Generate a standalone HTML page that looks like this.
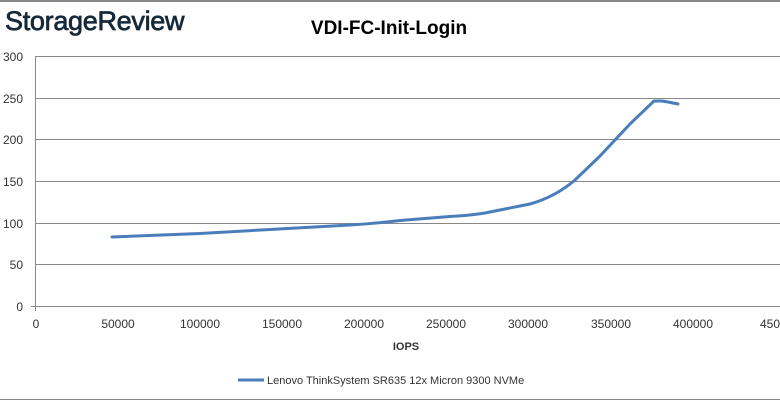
<!DOCTYPE html>
<html><head><style>
body{margin:0;background:#fff;}
svg{display:block;font-family:"Liberation Sans",sans-serif;}
</style></head><body>
<svg width="780" height="401" viewBox="0 0 780 401">
<rect width="780" height="401" fill="#fff"/>
<line x1="0" y1="1" x2="780" y2="1" stroke="#888" stroke-width="2"/>
<line x1="0" y1="399.5" x2="780" y2="399.5" stroke="#888" stroke-width="1"/>
<text x="5" y="30" font-size="27" fill="#15293a" stroke="#15293a" stroke-width="0.7" letter-spacing="-0.3">StorageReview</text>
<text x="389" y="34" font-size="19" font-weight="bold" text-anchor="middle" fill="#000">VDI-FC-Init-Login</text>
<g stroke="#888" stroke-width="1">
<line x1="36" y1="56.5" x2="780" y2="56.5"/>
<line x1="36" y1="98.5" x2="780" y2="98.5"/>
<line x1="36" y1="139.5" x2="780" y2="139.5"/>
<line x1="36" y1="181.5" x2="780" y2="181.5"/>
<line x1="36" y1="223.5" x2="780" y2="223.5"/>
<line x1="36" y1="264.5" x2="780" y2="264.5"/>
<line x1="31" y1="306.5" x2="780" y2="306.5"/>
<line x1="35.5" y1="56" x2="35.5" y2="311"/>
</g>
<g font-size="12" fill="#333" text-anchor="end">
<text x="23" y="61">300</text><text x="23" y="103">250</text><text x="23" y="144">200</text>
<text x="23" y="186">150</text><text x="23" y="228">100</text><text x="23" y="269">50</text><text x="23" y="311">0</text>
</g>
<g font-size="12" fill="#333" text-anchor="middle">
<text x="36" y="328">0</text><text x="118" y="328">50000</text><text x="200" y="328">100000</text>
<text x="282" y="328">150000</text><text x="364" y="328">200000</text><text x="446" y="328">250000</text>
<text x="528" y="328">300000</text><text x="611" y="328">350000</text><text x="693" y="328">400000</text>
<text x="770" y="328">450</text>
</g>
<text x="406" y="350" font-size="11" font-weight="bold" text-anchor="middle" fill="#333">IOPS</text>
<path d="M112,237 L200,233.5 L270,229.5 L350,225 Q380,223 400,220.5 L450,216.5 Q470,215.5 485,213 Q505,209 530,204 Q555,197 575,180 L600,156 L630,124 L654,101 L662,101 L668,102 L678,104" fill="none" stroke="#4a7ebb" stroke-width="3" stroke-linejoin="round" stroke-linecap="round"/>
<line x1="238" y1="380" x2="264" y2="380" stroke="#4a7ebb" stroke-width="3"/>
<text x="267" y="384" font-size="11" fill="#333">Lenovo ThinkSystem SR635 12x Micron 9300 NVMe</text>
</svg>
</body></html>
